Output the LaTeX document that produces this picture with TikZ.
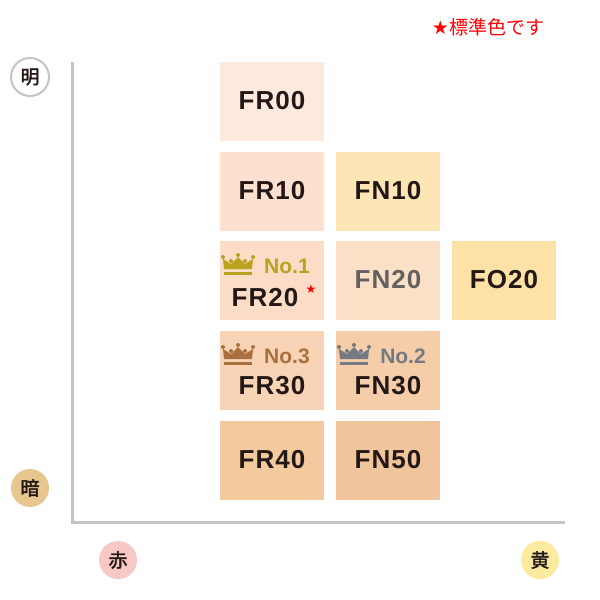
\documentclass[tikz,border=0pt]{standalone}
\usepackage{fontspec}
\setmainfont{Liberation Sans}
\newfontfamily\cjk{Noto Sans CJK JP}
\newfontfamily\cjkbf[FakeBold=2]{Noto Sans CJK JP}
\newfontfamily\symb{DejaVu Sans}
\usetikzlibrary{positioning}
\definecolor{ink}{HTML}{231815}
\definecolor{axisgray}{HTML}{C4C4C4}
\definecolor{gold}{HTML}{B8A21E}
\definecolor{bronze}{HTML}{A8703E}
\definecolor{silver}{HTML}{737A82}
\tikzset{
  shade/.style={minimum width=104pt, minimum height=79pt, inner sep=0pt,
    font=\addfontfeatures{LetterSpace=4}\fontsize{26}{26}\selectfont\bfseries, text=ink},
  badge/.style={circle, minimum size=38pt, inner sep=0pt,
    font=\cjkbf\fontsize{19}{19}\selectfont, text=ink},
  rank/.style={font=\fontsize{21}{21}\selectfont\bfseries, inner sep=0pt},
  crown/.pic={
      \fill[#1] (-14,4) -- (-15,-6) -- (-7,-1) -- (0,-8) -- (7,-1) -- (15,-6) -- (14,4) -- cycle;
      \fill[#1] (-14,6.5) rectangle (14,9.5);
      \foreach \cx/\cy in {-15/-8, -7/-4, 0/-10, 7/-4, 15/-8}{
          \fill[#1] (\cx,\cy) circle (2);
        }
    },
}
\begin{document}
\begin{tikzpicture}[x=1pt,y=-1pt]
      \useasboundingbox (0,0) rectangle (600,600);
      \fill[white] (0,0) rectangle (600,600);

      % axes
      \draw[axisgray, line width=3pt] (72,62) -- (72,522) -- (565,522);

      \node[badge, draw=axisgray, line width=2pt, fill=white] (light) at (30,77) {明};
      \node[badge, fill={rgb,255:red,232;green,198;blue,144}] (dark) at (30,488) {暗};
      \node[badge, fill={rgb,255:red,248;green,200;blue,196}] (red) at (118,560) {赤};
      \node[badge, fill={rgb,255:red,251;green,234;blue,160}] (yellow) at (540,560) {黄};

      \node[text=red, font=\cjk\fontsize{19}{19}\selectfont] (std) at (488,27) {{\symb ★}標準色です};

      % shades
      \node[shade, fill={rgb,255:red,253;green,233;blue,221}] (fr00) at (272,101) {FR00};
      \node[shade, fill={rgb,255:red,253;green,224;blue,207}] (fr10) at (272,191) {FR10};
      \node[shade, fill={rgb,255:red,253;green,229;blue,181}] (fn10) at (388,191) {FN10};
      \node[shade, fill={rgb,255:red,251;green,220;blue,198}] (fr20) at (272,280) {};
      \node[shade, fill={rgb,255:red,251;green,224;blue,200}, text={rgb,255:red,100;green,96;blue,94}] (fn20) at (388,280) {FN20};
      \node[shade, fill={rgb,255:red,253;green,225;blue,166}] (fo20) at (504,280) {FO20};
      \node[shade, fill={rgb,255:red,248;green,211;blue,181}] (fr30) at (272,370) {};
      \node[shade, fill={rgb,255:red,245;green,205;blue,168}] (fn30) at (388,370) {};
      \node[shade, fill={rgb,255:red,243;green,201;blue,158}] (fr40) at (272,460) {FR40};
      \node[shade, fill={rgb,255:red,241;green,197;blue,155}] (fn50) at (388,460) {FN50};

      % ranked shades
      \node[shade, fill=none] (fr20t) at (265,298) {FR20};
      \node[text=red, font=\symb\fontsize{12}{12}\selectfont, inner sep=0pt] (fr20s) at (311,289) {★};
      \node[shade, fill=none] (fr30t) at (272,386) {FR30};
      \node[shade, fill=none] (fn30t) at (388,386) {FN30};

      \pic at (238,265) {crown=gold};
      \node[rank, text=gold] (no1) at (287,266) {No.1};
      \pic at (238,355) {crown=bronze};
      \node[rank, text=bronze] (no3) at (287,356) {No.3};
      \pic at (354,355) {crown=silver};
      \node[rank, text=silver] (no2) at (403,356) {No.2};
    \end{tikzpicture}
\end{document}
